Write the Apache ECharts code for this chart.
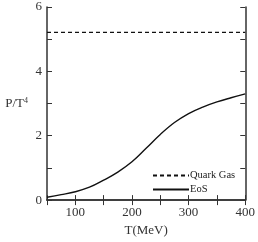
<!DOCTYPE html>
<html><head><meta charset="utf-8">
<script src="https://cdn.jsdelivr.net/npm/echarts@6/dist/echarts.min.js"></script>
<style>html,body{margin:0;padding:0;background:#fff}#c{width:258px;height:242px}</style>
</head><body><div id="c"></div>
<script>
var temps = [50, 75, 100, 125, 150, 175, 200, 225, 250, 275, 300, 325, 350, 375, 400];
var eos = [0.09, 0.17, 0.26, 0.40, 0.62, 0.87, 1.19, 1.61, 2.04, 2.41, 2.69, 2.89, 3.05, 3.18, 3.30];
var quarkGasValue = 5.21;
var quarkTemps = [50, 400];
var quark = quarkTemps.map(function (t) { return quarkGasValue; });
var seriesNames = ['Quark Gas', 'EoS'];

var font = 'Liberation Serif';
var chart = echarts.init(document.getElementById('c'), null, {renderer: 'canvas'});
var axisLine = {show: true, lineStyle: {color: '#333', width: 1.5}};
var tick = {show: true, inside: true, length: 5, lineStyle: {color: '#333', width: 1}};
chart.setOption({
  animation: false,
  backgroundColor: '#fff',
  grid: {left: 47, right: 10, top: 7, bottom: 35},
  legend: {
    orient: 'vertical', left: 147, top: 165,
    itemWidth: 36, itemHeight: 10, itemGap: 3,
    data: seriesNames,
    itemStyle: {opacity: 0},
    textStyle: {fontFamily: font, fontSize: 10.5, color: '#222', padding: [0, 0, 0, -4]}
  },
  xAxis: [{
    type: 'value', min: 50, max: 400, interval: 50,
    axisLine: axisLine, axisTick: tick, splitLine: {show: false},
    axisLabel: {fontFamily: font, fontSize: 13, color: '#333', margin: 6,
      formatter: function (v) { return v % 100 === 0 ? String(v) : ''; }},
    name: 'T(MeV)', nameLocation: 'middle', nameGap: 20,
    nameTextStyle: {fontFamily: font, fontSize: 13, color: '#333'}
  }, {
    type: 'value', position: 'top', min: 50, max: 400, interval: 50,
    axisLine: axisLine, axisTick: tick, axisLabel: {show: false}, splitLine: {show: false}
  }],
  yAxis: [{
    type: 'value', min: 0, max: 6, interval: 1,
    axisLine: axisLine, axisTick: tick, splitLine: {show: false},
    axisLabel: {fontFamily: font, fontSize: 13, color: '#333', margin: 5,
      formatter: function (v) { return v % 2 === 0 ? String(v) : ''; }},
    name: 'P/T{s|4}', nameLocation: 'middle', nameRotate: 0, nameGap: 19,
    nameTextStyle: {fontFamily: font, fontSize: 13, color: '#333',
      rich: {s: {fontFamily: font, fontSize: 8, color: '#333', verticalAlign: 'top', padding: [0, 0, 6, 0]}}}
  }, {
    type: 'value', position: 'right', min: 0, max: 6, interval: 1,
    axisLine: axisLine, axisTick: tick, axisLabel: {show: false}, splitLine: {show: false}
  }],
  series: [{
    name: seriesNames[0], type: 'line', symbol: 'none',
    data: quarkTemps.map(function (t, i) { return [t, quark[i]]; }),
    lineStyle: {color: '#111', width: 1.2, type: [4, 3]}, itemStyle: {color: '#111'}
  }, {
    name: seriesNames[1], type: 'line', symbol: 'none', smooth: 0.4,
    data: temps.map(function (t, i) { return [t, eos[i]]; }),
    lineStyle: {color: '#111', width: 1.4}, itemStyle: {color: '#111'}
  }]
});
</script></body></html>
